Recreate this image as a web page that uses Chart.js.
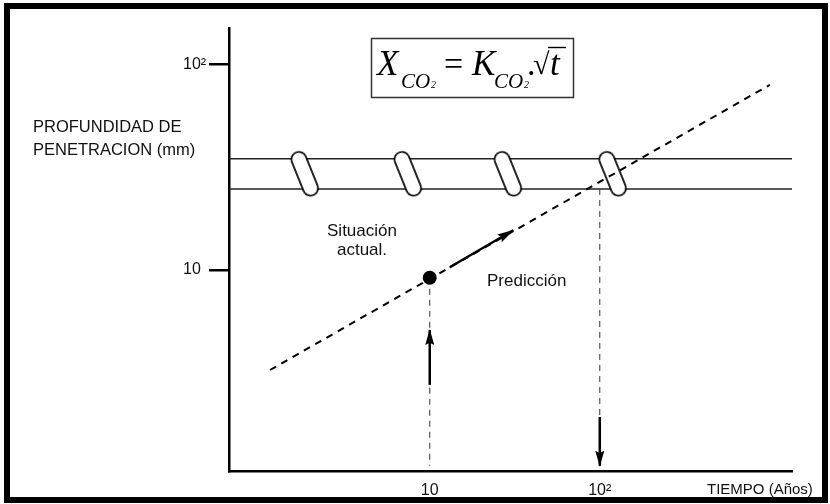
<!DOCTYPE html>
<html>
<head>
<meta charset="utf-8">
<title>Profundidad de carbonatación</title>
<script src="https://cdn.jsdelivr.net/npm/chart.js@4.4.1/dist/chart.umd.min.js"></script>
<style>
  html, body { margin: 0; padding: 0; background: #fff; }
  #wrap { position: relative; width: 830px; height: 504px; background: #fff; overflow: hidden; }
  #wrap canvas { position: absolute; left: 0; top: 0; }
  #frame { position: absolute; left: 4px; top: 3px; width: 812px; height: 488px;
           border: 6px solid #000; pointer-events: none; }
</style>
</head>
<body>
<div id="wrap">
  <canvas id="chart" width="830" height="504"></canvas>
  <div id="frame"></div>
</div>
<script>
// Axis bounds and ticks (both axes logarithmic)
const xBounds = [0.66, 1350];        // tiempo, años
const yBounds = [1.046, 151];        // profundidad, mm
const xTickValues = [10, 100];
const xTickLabels = ['10', '10²'];
const yTickValues = [10, 100];
const yTickLabels = ['10', '10²'];

// Carbonation front prediction, X = K·√t
const predT = [1.15, 1000];
const predX = [3.25, 79.8];

// Present state (inspection)
const nowT = [10];
const nowX = [9.15];

// Solid arrow along the prediction
const arrowT = [13.1, 31];
const arrowX = [10.3, 15.6];

// Reinforcement cover band
const bandT = [0.66, 1350];
const coverUpper = [34.8, 34.8];
const coverLower = [24.8, 24.8];

// Rebar break markers on the band
const breakT = [1.84, 7.43, 28.8, 119];
const breakX = [29.4, 29.4, 29.4, 29.4];

// Dashed drops to the time axis
const dropNowT = [10, 10];
const dropNowX = [9.15, 1.11];
const dropEndT = [100, 100];
const dropEndX = [24.8, 1.11];

// Vertical arrows
const upArrowT = [10, 10];
const upArrowX = [2.75, 5.09];
const downArrowT = [100, 100];
const downArrowX = [1.92, 1.11];

const SANS = '"Liberation Sans", Arial, sans-serif';
const SERIF = '"Liberation Serif", "Times New Roman", serif';

function pts(xs, ys) { return xs.map((x, i) => ({ x: x, y: ys[i] })); }

// Rounded bar used as the rebar marker
function capsule() {
  const w = 15, L = 46, lw = 1.7, m = 3;
  const c = document.createElement('canvas');
  c.width = w + 2 * m; c.height = L + 2 * m;
  const g = c.getContext('2d');
  const r = w / 2, cx = c.width / 2, top = m + r, bot = m + L - r;
  g.beginPath();
  g.arc(cx, top, r, Math.PI, 0);
  g.lineTo(cx + r, bot);
  g.arc(cx, bot, r, 0, Math.PI);
  g.closePath();
  g.fillStyle = '#fff';
  g.fill();
  g.lineWidth = lw;
  g.strokeStyle = '#000';
  g.stroke();
  return c;
}

const lineBase = { showLine: true, pointRadius: 0, pointHoverRadius: 0, fill: false };

// Triangular heads on the datasets flagged with arrowHead
const arrowHeads = {
  id: 'arrowHeads',
  afterDatasetsDraw(chart) {
    const ctx = chart.ctx;
    chart.data.datasets.forEach((ds, i) => {
      if (!ds.arrowHead) return;
      const p = chart.getDatasetMeta(i).data;
      const a = p[p.length - 2], b = p[p.length - 1];
      const ang = Math.atan2(b.y - a.y, b.x - a.x);
      const len = ds.headLength || 15, half = ds.headHalf || 4.5;
      ctx.save();
      ctx.translate(b.x, b.y);
      ctx.rotate(ang);
      ctx.beginPath();
      ctx.moveTo(1, 0);
      ctx.lineTo(-len, -half);
      ctx.lineTo(-len * 0.85, 0);
      ctx.lineTo(-len, half);
      ctx.closePath();
      ctx.fillStyle = ds.borderColor;
      ctx.fill();
      ctx.restore();
    });
  }
};

// Axis titles, annotations and the formula box
const annotations = {
  id: 'annotations',
  afterDraw(chart) {
    const ctx = chart.ctx;
    ctx.save();
    ctx.fillStyle = '#111';
    ctx.textBaseline = 'alphabetic';
    ctx.textAlign = 'left';

    ctx.font = '16.5px ' + SANS;
    ctx.fillText('PROFUNDIDAD DE', 33, 132);
    ctx.fillText('PENETRACION (mm)', 33, 155);

    ctx.font = '15px ' + SANS;
    ctx.fillText('TIEMPO (Años)', 707, 494);

    ctx.font = '17px ' + SANS;
    ctx.textAlign = 'center';
    ctx.fillText('Situación', 362, 236);
    ctx.fillText('actual.', 362, 255);
    ctx.textAlign = 'left';
    ctx.fillText('Predicción', 487, 286);

    // formula box
    ctx.strokeStyle = '#333';
    ctx.lineWidth = 1.5;
    ctx.strokeRect(371.5, 38.5, 202, 59);

    ctx.fillStyle = '#000';
    const big = 'italic 35px ' + SERIF;
    const sub = 'italic 21px ' + SERIF;
    const tiny = 'italic 10px ' + SERIF;
    ctx.font = big;  ctx.fillText('X', 377, 75);
    ctx.font = sub;  ctx.fillText('CO', 401, 88);
    ctx.font = tiny; ctx.fillText('2', 431, 88);
    ctx.font = '34px ' + SERIF; ctx.fillText('=', 444, 75);
    ctx.font = big;  ctx.fillText('K', 472, 75);
    ctx.font = sub;  ctx.fillText('CO', 494, 88);
    ctx.font = tiny; ctx.fillText('2', 524, 88);
    ctx.font = '34px ' + SERIF; ctx.fillText('.', 527, 75);
    ctx.font = '30px ' + SERIF; ctx.fillText('√', 533, 74);
    ctx.beginPath();
    ctx.lineWidth = 1.4;
    ctx.strokeStyle = '#000';
    ctx.moveTo(548, 47.5);
    ctx.lineTo(566, 47.5);
    ctx.stroke();
    ctx.font = big;  ctx.fillText('t', 550, 75);
    ctx.restore();
  }
};

const marker = capsule();

new Chart(document.getElementById('chart'), {
  type: 'scatter',
  data: {
    datasets: [
      Object.assign({}, lineBase, { data: pts(bandT, coverUpper), borderColor: '#222', borderWidth: 1.5, order: 6 }),
      Object.assign({}, lineBase, { data: pts(bandT, coverLower), borderColor: '#222', borderWidth: 1.5, order: 6 }),
      { data: pts(breakT, breakX), pointStyle: marker, pointRotation: -22, pointRadius: 12, order: 5 },
      Object.assign({}, lineBase, { data: pts(dropNowT, dropNowX), borderColor: '#333', borderWidth: 1, borderDash: [6, 5], order: 4 }),
      Object.assign({}, lineBase, { data: pts(dropEndT, dropEndX), borderColor: '#333', borderWidth: 1, borderDash: [6, 5], order: 4 }),
      Object.assign({}, lineBase, { data: pts(predT, predX), borderColor: '#000', borderWidth: 2, borderDash: [7, 6], order: 3 }),
      Object.assign({}, lineBase, { data: pts(arrowT, arrowX), borderColor: '#000', borderWidth: 2.5, arrowHead: true, headLength: 16, headHalf: 4.5, order: 2 }),
      Object.assign({}, lineBase, { data: pts(upArrowT, upArrowX), borderColor: '#000', borderWidth: 2.5, arrowHead: true, headLength: 15, headHalf: 4.5, order: 2 }),
      Object.assign({}, lineBase, { data: pts(downArrowT, downArrowX), borderColor: '#000', borderWidth: 2.5, arrowHead: true, headLength: 15, headHalf: 4.5, order: 2 }),
      { data: pts(nowT, nowX), pointRadius: 7, pointBackgroundColor: '#000', pointBorderColor: '#000', pointBorderWidth: 0, order: 0 }
    ]
  },
  options: {
    responsive: false,
    animation: false,
    events: [],
    layout: { padding: { left: 183, top: 28, right: 38, bottom: 0 } },
    plugins: { legend: { display: false }, tooltip: { enabled: false } },
    scales: {
      x: {
        type: 'logarithmic',
        min: xBounds[0], max: xBounds[1],
        afterBuildTicks: s => { s.ticks = xTickValues.map(v => ({ value: v })); },
        afterFit: s => { s.height = 33; },
        ticks: {
          autoSkip: false, maxRotation: 0, padding: 2, color: '#111',
          font: { family: SANS, size: 16 },
          callback: v => xTickLabels[xTickValues.indexOf(v)]
        },
        grid: { display: false },
        border: { display: true, color: '#000', width: 2.5 }
      },
      y: {
        type: 'logarithmic',
        min: yBounds[0], max: yBounds[1],
        afterBuildTicks: s => { s.ticks = yTickValues.map(v => ({ value: v })); },
        afterFit: s => { s.width = 46; },
        ticks: {
          autoSkip: false, crossAlign: 'far', padding: 8, color: '#111',
          font: { family: SANS, size: 16 },
          callback: v => yTickLabels[yTickValues.indexOf(v)]
        },
        grid: { display: true, drawOnChartArea: false, drawTicks: true, tickLength: 20, tickWidth: 2.5, tickColor: '#000', color: '#000', lineWidth: 2.5 },
        border: { display: true, color: '#000', width: 2.5 }
      }
    }
  },
  plugins: [arrowHeads, annotations]
});
</script>
</body>
</html>
